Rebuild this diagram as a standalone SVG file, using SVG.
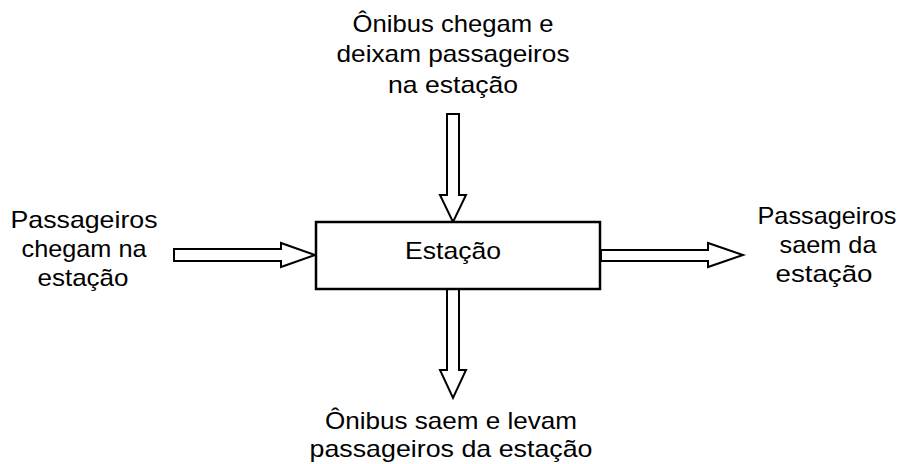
<svg xmlns="http://www.w3.org/2000/svg" width="903" height="464" viewBox="0 0 903 464">
<style>
.t{font-family:"Liberation Sans",Arial,sans-serif;font-size:24px;fill:#000;text-anchor:middle}
.box{fill:#fff;stroke:#000;stroke-width:2.5}
.arr{fill:#fff;stroke:#000;stroke-width:2;stroke-linejoin:miter}
</style>
<rect width="903" height="464" fill="#fff"/>
<g id="connectors">
<polygon class="arr" points="174,249 281,249 281,243 315,255 281,267 281,261 174,261"/>
<polygon class="arr" points="447,114 459,114 459,195 466,195 453,222 440,195 447,195"/>
<polygon class="arr" points="447,289 459,289 459,370 466,370 453,398 440,370 447,370"/>
<polygon class="arr" points="601,250 708,250 708,243 743,255 708,267 708,261 601,261"/>
</g>
<g id="estacao">
<rect class="box" x="316" y="222" width="284" height="67"/>
<text class="t" x="453" y="259" textLength="96" lengthAdjust="spacingAndGlyphs">Estação</text>
</g>
<g id="onibus-chegam">
<text class="t" x="453" y="32" textLength="201" lengthAdjust="spacingAndGlyphs">Ônibus chegam e</text>
<text class="t" x="453" y="62" textLength="233" lengthAdjust="spacingAndGlyphs">deixam passageiros</text>
<text class="t" x="453" y="93" textLength="130" lengthAdjust="spacingAndGlyphs">na estação</text>
</g>
<g id="passageiros-chegam">
<text class="t" x="84" y="228" textLength="147" lengthAdjust="spacingAndGlyphs">Passageiros</text>
<text class="t" x="84" y="257" textLength="125" lengthAdjust="spacingAndGlyphs">chegam na</text>
<text class="t" x="83" y="286" textLength="91" lengthAdjust="spacingAndGlyphs">estação</text>
</g>
<g id="passageiros-saem">
<text class="t" x="827" y="224" textLength="139" lengthAdjust="spacingAndGlyphs">Passageiros</text>
<text class="t" x="828" y="253" textLength="97" lengthAdjust="spacingAndGlyphs">saem da</text>
<text class="t" x="824" y="282" textLength="97" lengthAdjust="spacingAndGlyphs">estação</text>
</g>
<g id="onibus-saem">
<text class="t" x="451" y="429" textLength="252" lengthAdjust="spacingAndGlyphs">Ônibus saem e levam</text>
<text class="t" x="451" y="457" textLength="283" lengthAdjust="spacingAndGlyphs">passageiros da estação</text>
</g>
</svg>
